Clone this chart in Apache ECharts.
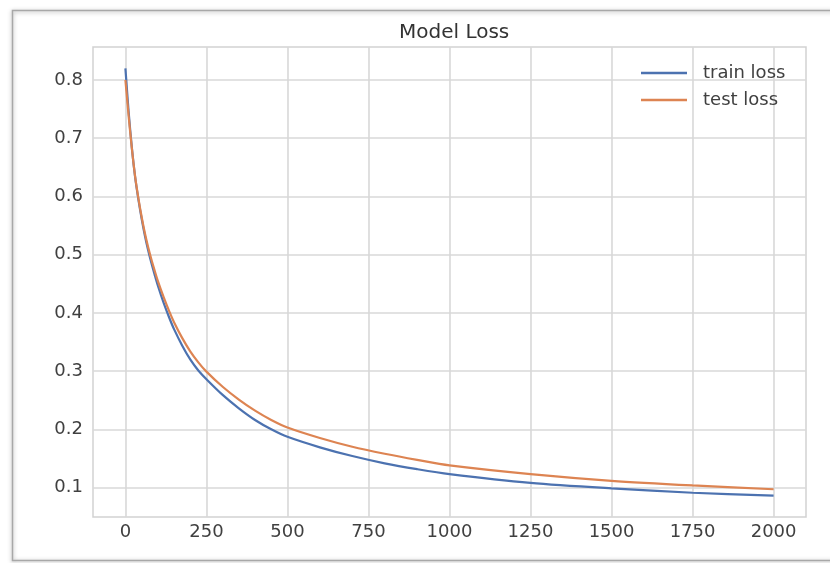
<!DOCTYPE html>
<html>
<head>
<meta charset="utf-8">
<title>Model Loss</title>
<script src="https://cdn.jsdelivr.net/npm/echarts@6/dist/echarts.min.js"></script>
<style>
  html, body { margin: 0; padding: 0; background: #ffffff; }
  #chart { width: 830px; height: 563px; }
</style>
</head>
<body>
<div id="chart"></div>
<script>
// Training iterations at which the losses were logged
const epochs = [0, 10, 20, 30, 40, 50, 60, 70, 80, 90, 100, 118, 135, 150, 175, 200, 225, 250, 300, 350, 400, 450, 500, 600, 700, 800, 900, 1000, 1250, 1500, 1750, 2000];
// Loss on the training set
const trainLoss = [0.820, 0.745, 0.683, 0.633, 0.595, 0.562, 0.533, 0.508, 0.486, 0.466, 0.447, 0.417, 0.392, 0.372, 0.344, 0.320, 0.301, 0.286, 0.259, 0.236, 0.216, 0.200, 0.187, 0.169, 0.154, 0.1415, 0.1315, 0.123, 0.108, 0.0985, 0.091, 0.086];
// Loss on the held-out test set
const testLoss = [0.800, 0.738, 0.682, 0.634, 0.597, 0.565, 0.537, 0.513, 0.492, 0.473, 0.455, 0.427, 0.403, 0.384, 0.357, 0.334, 0.315, 0.299, 0.273, 0.251, 0.232, 0.216, 0.203, 0.185, 0.170, 0.158, 0.1475, 0.138, 0.123, 0.1115, 0.1035, 0.097];
// Tick labels
const xTicks = [0, 250, 500, 750, 1000, 1250, 1500, 1750, 2000];
const yTicks = [0.1, 0.2, 0.3, 0.4, 0.5, 0.6, 0.7, 0.8];
const seriesNames = ['train loss', 'test loss'];

// Axis extents padded by 5% of the data range on each side
const xMin = -100, xMax = 2100;
const yMin = 0.0493, yMax = 0.8567;

const FONT = 'DejaVu Sans';
const gridColor = '#d8d8d8';
const labelColor = '#404040';

const pairs = (xs, ys) => xs.map((x, i) => [x, ys[i]]);

const chart = echarts.init(document.getElementById('chart'), null, { renderer: 'canvas' });

chart.setOption({
  backgroundColor: '#ffffff',
  animation: false,
  title: {
    text: 'Model Loss',
    left: 394,
    top: 18,
    textStyle: { fontFamily: FONT, fontSize: 20, fontWeight: 'normal', color: '#333333' }
  },
  legend: {
    data: seriesNames,
    orient: 'vertical',
    left: 636,
    top: 59,
    icon: 'rect',
    itemWidth: 46,
    itemHeight: 2.5,
    itemGap: 9,
    textStyle: { fontFamily: FONT, fontSize: 18, color: labelColor, padding: [0, 0, 0, 11] }
  },
  grid: {
    left: 93, right: 24, top: 47, bottom: 46,
    show: true,
    borderColor: '#d2d2d2',
    borderWidth: 1.5,
    containLabel: false
  },
  xAxis: {
    type: 'value',
    min: xMin,
    max: xMax,
    axisLine: { show: false },
    axisTick: { show: false, customValues: xTicks },
    axisLabel: {
      customValues: xTicks,
      formatter: v => String(v),
      fontFamily: FONT, fontSize: 18, color: labelColor, margin: 6
    },
    splitLine: { show: true, lineStyle: { color: gridColor, width: 1.6 } }
  },
  yAxis: {
    type: 'value',
    min: yMin,
    max: yMax,
    axisLine: { show: false },
    axisTick: { show: false, customValues: yTicks },
    axisLabel: {
      customValues: yTicks,
      formatter: v => v.toFixed(1),
      fontFamily: FONT, fontSize: 18, color: labelColor, margin: 10
    },
    splitLine: { show: true, lineStyle: { color: gridColor, width: 1.6 } }
  },
  series: [
    {
      name: seriesNames[0],
      type: 'line',
      data: pairs(epochs, trainLoss),
      showSymbol: false,
      smooth: 0.3,
      lineStyle: { color: '#4c72b0', width: 2.2 },
      itemStyle: { color: '#4c72b0' },
      z: 3
    },
    {
      name: seriesNames[1],
      type: 'line',
      data: pairs(epochs, testLoss),
      showSymbol: false,
      smooth: 0.3,
      lineStyle: { color: '#dd8452', width: 2.2 },
      itemStyle: { color: '#dd8452' },
      z: 4
    }
  ],
  graphic: [
    {
      // picture frame around the figure
      type: 'rect',
      left: 10,
      top: 8,
      shape: { width: 840, height: 550 },
      style: {
        fill: 'none',
        stroke: '#a8a8a8',
        lineWidth: 1.5,
        shadowBlur: 4,
        shadowColor: 'rgba(0,0,0,0.35)',
        shadowOffsetY: 1
      },
      silent: true,
      z: 100
    }
  ]
});
</script>
</body>
</html>
